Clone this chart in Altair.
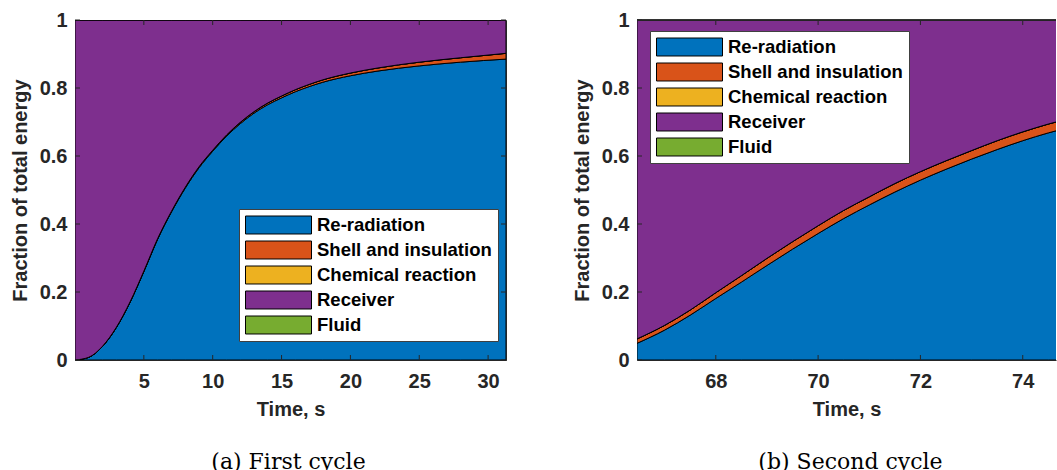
import altair as alt
import pandas as pd

# Energy components, stacked from the bottom up
components = ["Re-radiation", "Shell and insulation", "Chemical reaction", "Receiver", "Fluid"]
colors = ["#0072BD", "#D95319", "#EDB120", "#7E2F8E", "#77AC30"]

# (a) first cycle: time (s) and energy fractions
t1 = [0, 1, 2, 3, 4, 5, 6, 7, 8, 9, 10, 11, 12, 13, 14, 15, 16, 17, 18, 20, 22, 25, 28, 31.3]
rerad1 = [0, 0.008, 0.04, 0.095, 0.17, 0.26, 0.355, 0.435, 0.505, 0.565, 0.614, 0.658, 0.695,
          0.726, 0.751, 0.771, 0.789, 0.804, 0.817, 0.836, 0.850, 0.865, 0.876, 0.885]
shell1 = [0, 0, 0.0005, 0.001, 0.001, 0.0015, 0.002, 0.002, 0.0025, 0.003, 0.003, 0.0035, 0.004,
          0.0045, 0.005, 0.0055, 0.006, 0.0065, 0.007, 0.008, 0.009, 0.011, 0.013, 0.017]
chem1 = [0] * len(t1)
fluid1 = [0] * len(t1)

# (b) second cycle
t2 = [66.46, 67, 67.5, 68, 68.5, 69, 69.5, 70, 70.5, 71, 71.5, 72, 72.5, 73, 73.5, 74, 74.5, 74.9]
rerad2 = [0.049, 0.088, 0.132, 0.181, 0.229, 0.278, 0.326, 0.372, 0.416, 0.456, 0.494, 0.529,
          0.561, 0.591, 0.619, 0.645, 0.668, 0.684]
shell2 = [0.013, 0.014, 0.015, 0.017, 0.019, 0.021, 0.022, 0.023, 0.024, 0.024, 0.025, 0.025,
          0.025, 0.025, 0.026, 0.026, 0.026, 0.026]
chem2 = [0] * len(t2)
fluid2 = [0] * len(t2)

# axis ticks
xticks1 = [5, 10, 15, 20, 25, 30]
xticks2 = [68, 70, 72, 74]
yticks = [0, 0.2, 0.4, 0.6, 0.8, 1]

AX = "#262626"
SANS = "Liberation Sans"
SERIF = "DejaVu Serif"
H = 340
SWATCH = "M-1,-0.2727L1,-0.2727L1,0.2727L-1,0.2727Z"


def long_frame(t, rerad, shell, chem, fluid):
    rows = []
    for i, ti in enumerate(t):
        parts = [rerad[i], shell[i], chem[i], 0.0, fluid[i]]
        # the receiver holds whatever is left of the total
        parts[3] = 1 - (rerad[i] + shell[i] + chem[i] + fluid[i])
        for k, name in enumerate(components):
            rows.append({"time": ti, "component": name, "order": k, "fraction": parts[k]})
    return pd.DataFrame(rows)


def panel(df, domain, xticks, width, legend_x, legend_y, caption, cap_dx, right_frame):
    xscale = alt.Scale(domain=domain, nice=False, zero=False)
    yscale = alt.Scale(domain=[0, 1], nice=False)
    xaxis = alt.Axis(values=xticks, title="Time, s", format="~g")
    yaxis = alt.Axis(values=yticks, title="Fraction of total energy", format="~g")
    legend = alt.Legend(
        title=None, orient="none", legendX=legend_x, legendY=legend_y,
        symbolType=SWATCH, symbolSize=4356, symbolStrokeColor="black",
        symbolStrokeWidth=1, symbolOpacity=1, clipHeight=20, rowPadding=5,
        labelFont=SANS, labelFontSize=18.5, labelFontWeight="bold", labelColor="black",
        labelOffset=5, labelLimit=400, fillColor="white", strokeColor="#404040",
        padding=6,
    )
    area = alt.Chart(df).mark_area(
        stroke="black", strokeWidth=1, interpolate="monotone", opacity=1, clip=True
    ).encode(
        x=alt.X("time:Q", scale=xscale, axis=xaxis),
        y=alt.Y("fraction:Q", stack="zero", scale=yscale, axis=yaxis),
        color=alt.Color("component:N", scale=alt.Scale(domain=components, range=colors),
                        legend=legend),
        order=alt.Order("order:Q", sort="ascending"),
    )

    # inward-pointing tick marks on every side of the box
    xt = pd.DataFrame({"time": xticks})
    yt = pd.DataFrame({"fraction": yticks})
    rule = dict(color=AX, strokeWidth=1)
    bottom = alt.Chart(xt).mark_rule(**rule).encode(
        x=alt.X("time:Q", scale=xscale, axis=xaxis), y=alt.value(H), y2=alt.value(H - 5))
    top = alt.Chart(xt).mark_rule(**rule).encode(
        x=alt.X("time:Q", scale=xscale, axis=xaxis), y=alt.value(0), y2=alt.value(5))
    left = alt.Chart(yt).mark_rule(**rule).encode(
        y=alt.Y("fraction:Q", scale=yscale, axis=yaxis), x=alt.value(0), x2=alt.value(5))
    layers = [area, bottom, top, left]
    if right_frame:
        right = alt.Chart(yt).mark_rule(**rule).encode(
            y=alt.Y("fraction:Q", scale=yscale, axis=yaxis),
            x=alt.value(width), x2=alt.value(width - 5))
        layers.append(right)
        view = alt.ViewBackground(stroke=AX, strokeWidth=1)
    else:
        edge = alt.Chart(xt).mark_rule(**rule).encode(
            x=alt.value(0), x2=alt.value(width), y=alt.value(0))
        layers.append(edge)
        view = alt.ViewBackground(stroke="transparent")

    return alt.layer(*layers, view=view).properties(
        width=width, height=H,
        title=alt.TitleParams(caption, orient="bottom", font=SERIF, fontSize=22,
                              fontWeight="normal", color="black", offset=33, dx=cap_dx,
                              anchor="middle"),
    )


left_panel = panel(long_frame(t1, rerad1, shell1, chem1, fluid1), [0, 31.3], xticks1, 431,
                   164, 189, "(a) First cycle", -2, True)
right_panel = panel(long_frame(t2, rerad2, shell2, chem2, fluid2), [66.46, 74.65], xticks2, 419,
                    13, 11, "(b) Second cycle", 4, False)

chart = alt.hconcat(left_panel, right_panel, spacing=64).resolve_legend(
    color="independent"
).properties(
    padding={"left": 9, "top": 9, "right": 0, "bottom": 0},
    background="white",
).configure_view(
    stroke=AX, strokeWidth=1
).configure_axis(
    domain=True, domainColor=AX, domainWidth=1, ticks=False, grid=False,
    labelFont=SANS, labelFontSize=20, labelFontWeight="bold", labelColor=AX,
    titleFont=SANS, titleFontSize=20, titleFontWeight="bold", titleColor=AX,
).configure_axisX(
    labelPadding=11, titlePadding=8
).configure_axisY(
    labelPadding=8, titlePadding=9
)

chart.save("out.html", embed_options={"renderer": "svg", "actions": False})
